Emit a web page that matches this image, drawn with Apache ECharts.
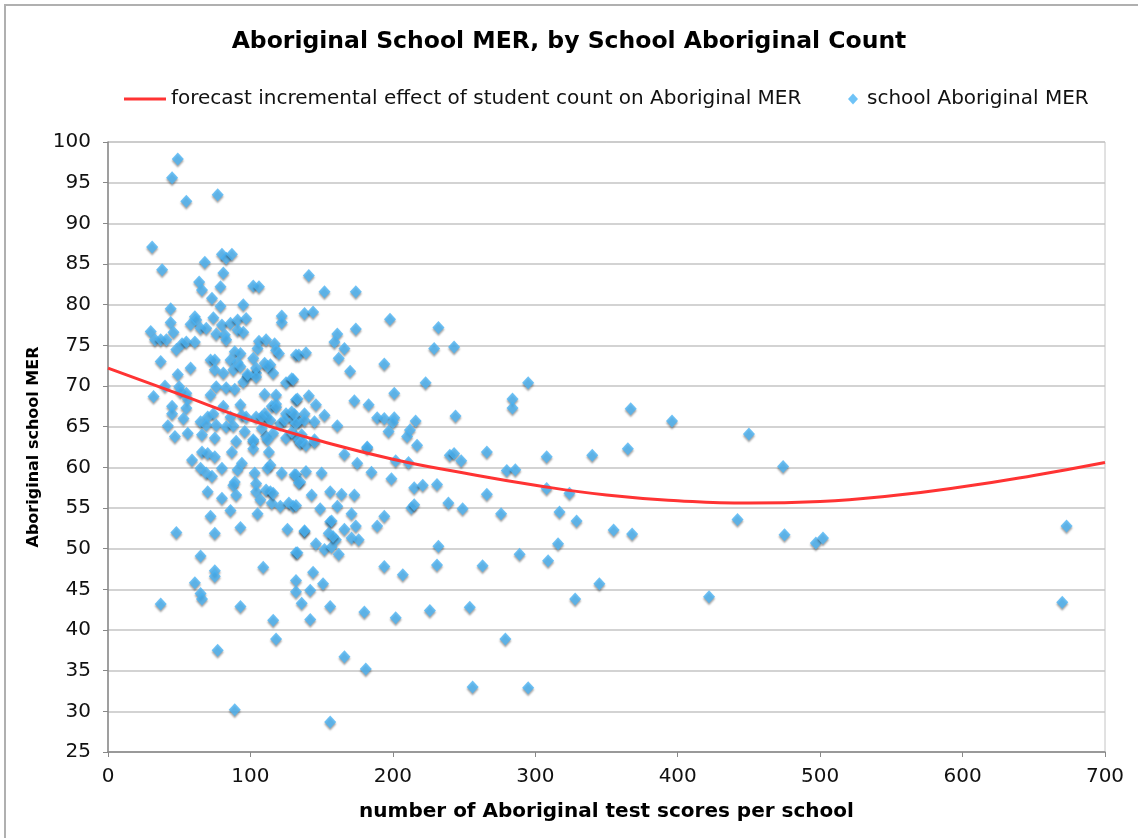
<!DOCTYPE html>
<html>
<head>
<meta charset="utf-8">
<title>Aboriginal School MER</title>
<script src="https://cdn.jsdelivr.net/npm/echarts@6/dist/echarts.min.js"></script>
<style>
  html, body { margin: 0; padding: 0; background: #fff; }
  #main { width: 1138px; height: 838px; }
</style>
</head>
<body>
<div id="main"></div>
<script>
// fitted curve, every 50 test scores
var curveCount = [0, 50, 100, 150, 200, 250, 300, 350, 400, 450, 500, 550, 600, 650, 700];
var curveMER = [72.2, 69.0, 65.8, 63.2, 61.0, 59.3, 57.8, 56.6, 55.9, 55.6, 55.8, 56.5, 57.6, 59.0, 60.6];

// one [count, MER] pair per school
var schoolPoints = [
  [49,97.9],[45,95.6],[55,92.7],[77,93.5],[31,87.1],[38,84.3],[68,85.2],[80,86.2],[83,85.7],[87,86.2],
  [81,83.9],[64,82.8],[66,81.8],[79,82.2],[102,82.3],[106,82.2],[73,80.8],[79,79.8],[95,80.0],[44,79.5],
  [122,78.6],[122,77.8],[44,77.8],[61,78.5],[62,78.1],[58,77.6],[74,78.4],[80,77.5],[86,77.7],[91,78.1],
  [97,78.3],[46,76.6],[30,76.7],[65,77.1],[69,77.1],[76,76.4],[82,76.3],[91,76.9],[95,76.6],[83,75.7],
  [33,75.7],[37,75.7],[41,75.7],[52,75.2],[55,75.4],[61,75.4],[48,74.5],[106,75.5],[111,75.7],[105,74.6],
  [117,75.2],[118,74.4],[120,74.0],[89,74.2],[93,74.0],[37,73.0],[72,73.2],[75,73.2],[86,73.2],[91,72.9],
  [102,73.4],[110,72.8],[114,72.6],[132,73.8],[75,72.0],[58,72.2],[88,72.0],[93,72.4],[104,71.6],[116,71.6],
  [49,71.4],[81,71.6],[98,71.2],[95,70.5],[125,70.4],[129,70.9],[40,70.0],[50,69.9],[76,69.9],[83,69.8],
  [89,69.6],[51,69.3],[55,69.1],[72,68.9],[110,69.0],[118,68.9],[56,68.4],[32,68.7],[132,68.3],[45,67.5],
  [55,67.3],[81,67.5],[93,67.7],[115,67.5],[45,66.6],[53,66.0],[74,66.6],[70,66.2],[86,66.2],[104,66.2],
  [111,66.2],[125,66.6],[129,66.8],[65,65.6],[69,65.2],[76,65.2],[83,65.0],[88,65.1],[94,66.4],[97,66.2],
  [42,65.1],[121,65.4],[130,65.8],[134,65.6],[47,63.8],[56,64.2],[66,64.0],[75,63.6],[90,63.2],[102,63.4],
  [111,63.8],[116,64.2],[125,63.6],[132,63.8],
  [59,60.9],[66,61.9],[70,61.7],[75,61.3],[65,59.9],[69,59.3],[73,58.9],[80,59.9],[87,61.9],[94,60.5],
  [91,59.7],[103,59.3],[114,60.3],[122,59.3],[132,59.1],[89,58.2],[88,57.8],[104,58.0],[104,57.0],[114,57.0],
  [70,57.0],[90,56.6],[80,56.2],[107,56.0],[115,55.6],[121,55.2],[127,55.6],[130,55.2],[72,54.0],[86,54.7],
  [105,54.3],[48,52.0],[75,51.9],[93,52.6],[126,52.4],[65,49.1],[75,47.3],[75,46.6],[109,47.7],[132,49.5],
  [61,45.8],[65,44.5],[66,43.8],[37,43.2],[93,42.9],[132,46.1],[132,44.7],[116,41.2],[118,38.9],[77,37.5],
  [89,30.2],
  [96,64.4],[108,64.8],[102,63.2],[102,62.3],[112,63.4],[113,61.9],[112,59.9],[135,58.2],[111,57.2],[116,56.8],
  [136,64.0],[134,63.4],[138,52.1],[156,53.3],[160,51.1],
  [104,72.2],[112,72.4],[98,71.4],[104,71.1],[118,67.8],[118,67.4],[110,66.6],[108,66.2],[114,65.8],[124,65.8],
  [145,65.6],
  [141,83.6],[152,81.6],[174,81.6],[138,78.9],[144,79.1],[198,78.2],[174,77.0],[232,77.2],[161,76.4],[159,75.4],
  [166,74.6],[229,74.6],[243,74.8],[134,73.8],[139,74.1],[162,73.4],[194,72.7],[170,71.8],[130,70.8],[223,70.4],
  [295,70.4],[133,68.4],[141,68.8],[146,67.7],[173,68.2],[183,67.7],[201,69.1],[284,68.4],[284,67.3],[152,66.4],
  [138,66.6],[131,66.5],[189,66.1],[194,66.0],[201,66.1],[244,66.3],[161,65.1],[216,65.7],[138,65.8],[132,65.4],
  [200,65.5],[197,64.4],[212,64.6],[210,63.8],[129,64.3],[145,63.4],[136,63.2],[182,62.5],[217,62.7],
  [135,63.0],[139,62.7],[145,63.1],[131,59.1],[139,59.5],[134,58.1],[150,59.3],[143,56.6],
  [166,61.6],[175,60.5],[182,62.4],[202,60.8],[211,60.6],[240,61.5],[243,61.7],[248,60.8],[266,61.9],[280,59.6],
  [286,59.7],[340,61.5],[308,61.3],[308,57.4],[324,56.8],[317,54.5],[329,53.4],[316,50.6],[309,48.5],[328,43.8],
  [345,45.7],[295,32.9],[256,33.0],[279,38.9],[289,49.3],[276,54.3],[266,56.7],[263,47.9],[254,42.8],[249,54.9],
  [239,55.6],[232,50.3],[231,48.0],[226,42.4],[202,41.5],[207,46.8],[194,47.8],[181,35.2],[166,36.7],[156,28.7],
  [180,42.2],[156,42.9],[142,41.3],[136,43.3],[142,44.9],[144,47.1],[151,45.7],
  [133,49.5],[146,50.6],[152,49.9],[157,50.2],[162,49.3],[155,51.9],[158,51.5],[157,53.4],[166,52.4],[171,51.3],
  [176,51.1],[174,52.8],[171,54.3],[161,55.2],[149,54.9],[138,52.2],[189,52.8],[194,54.0],[156,57.0],[164,56.7],
  [173,56.6],[132,55.3],[185,59.4],[199,58.6],[215,57.5],[221,57.8],[231,57.9],[213,55.0],[215,55.4],
  [367,67.2],[396,65.7],[365,62.3],[450,64.1],[474,60.1],[355,52.3],[368,51.8],[442,53.6],[475,51.7],[497,50.7],
  [502,51.3],[422,44.1],[673,52.8],[670,43.4]
];

var lineName = 'forecast incremental effect of student count on Aboriginal MER';
var dotName = 'school Aboriginal MER';

var chart = echarts.init(document.getElementById('main'));

var curveData = [];
for (var i = 0; i < curveCount.length; i++) {
  curveData.push([curveCount[i], curveMER[i]]);
}

var font = 'Verdana, "DejaVu Sans", sans-serif';

var option = {
  backgroundColor: '#fff',
  animation: false,
  textStyle: { fontFamily: font },
  title: {
    text: 'Aboriginal School MER, by School Aboriginal Count',
    left: 'center',
    top: 30,
    padding: 0,
    textStyle: { fontSize: 23.5, fontWeight: 'bold', color: '#000', fontFamily: font }
  },
  legend: [
    {
      data: [{ name: lineName, icon: 'rect' }],
      left: 124,
      top: 89,
      padding: 0,
      itemWidth: 42,
      itemHeight: 3,
      itemGap: 8,
      textStyle: { fontSize: 20, color: '#111', fontFamily: font }
    },
    {
      data: [{ name: dotName, icon: 'diamond' }],
      left: 848,
      top: 89,
      padding: 0,
      itemWidth: 10,
      itemHeight: 11,
      itemGap: 8,
      textStyle: { fontSize: 20, color: '#111', fontFamily: font, padding: [0, 0, 0, 4] }
    }
  ],
  grid: {
    left: 108,
    right: 33,
    top: 142,
    bottom: 86,
    show: true,
    borderColor: '#c4c4c4',
    borderWidth: 1
  },
  xAxis: {
    type: 'value',
    min: 0,
    max: 700,
    interval: 100,
    name: 'number of Aboriginal test scores per school',
    nameLocation: 'middle',
    nameGap: 50,
    nameTextStyle: { fontSize: 20, fontWeight: 'bold', color: '#000', fontFamily: font },
    axisLine: { lineStyle: { color: '#888', width: 1.5 } },
    axisTick: { show: true, length: 5, lineStyle: { color: '#888' } },
    axisLabel: { fontSize: 20, color: '#111', margin: 15, fontFamily: font },
    splitLine: { show: false }
  },
  yAxis: {
    type: 'value',
    min: 25,
    max: 100,
    interval: 5,
    name: 'Aboriginal school MER',
    nameLocation: 'middle',
    nameGap: 62,
    nameTextStyle: { fontSize: 16, fontWeight: 'bold', color: '#000', fontFamily: font },
    axisLine: { show: true, lineStyle: { color: '#888', width: 1.5 } },
    axisTick: { show: true, length: 5, lineStyle: { color: '#888' } },
    axisLabel: { fontSize: 20, color: '#111', margin: 17, fontFamily: font },
    splitLine: { show: true, lineStyle: { color: '#c4c4c4', width: 1.5 } }
  },
  series: [
    {
      name: dotName,
      type: 'scatter',
      data: schoolPoints,
      symbol: 'diamond',
      symbolSize: [12, 13],
      itemStyle: {
        color: '#4bb4f5',
        shadowColor: 'rgba(0,0,0,0.45)',
        shadowBlur: 2,
        shadowOffsetY: 2
      },
      z: 2
    },
    {
      name: lineName,
      type: 'line',
      data: curveData,
      smooth: true,
      showSymbol: false,
      lineStyle: { color: '#ff3333', width: 3 },
      itemStyle: { color: '#ff3333' },
      z: 3
    }
  ],
  graphic: [
    {
      type: 'rect',
      shape: { x: 5, y: 5, width: 1150, height: 850 },
      style: { fill: 'none', stroke: '#b0b0b0', lineWidth: 2 },
      silent: true
    }
  ]
};

chart.setOption(option, true);
</script>
</body>
</html>
